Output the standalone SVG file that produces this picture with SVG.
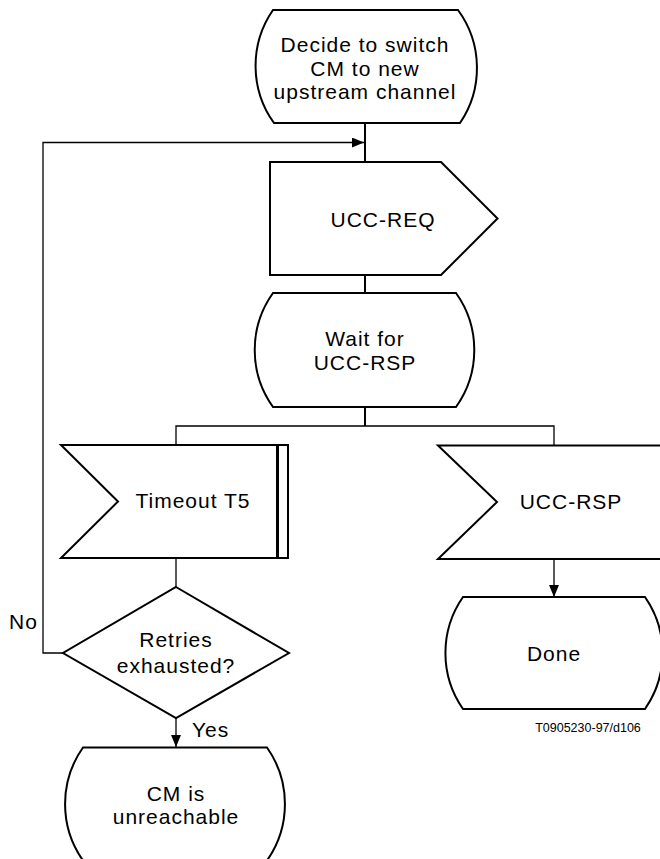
<svg xmlns="http://www.w3.org/2000/svg" width="660" height="859" viewBox="0 0 660 859">
<style>
.n{fill:#fff;stroke:#000;stroke-width:2;stroke-linejoin:miter}
.t{font-family:"Liberation Sans",Arial,sans-serif;font-size:21px;letter-spacing:1px;text-anchor:middle;fill:#000}
.c{fill:none;stroke:#000;stroke-width:1.3}
.cb{fill:none;stroke:#000;stroke-width:2}
.l{font-family:"Liberation Sans",Arial,sans-serif;font-size:21px;letter-spacing:1px;fill:#000}
</style>
<defs>
<marker id="ah" viewBox="0 0 12 10" refX="12" refY="5" markerWidth="12" markerHeight="10" markerUnits="userSpaceOnUse" orient="auto">
<path d="M0,0 L12,5 L0,10 Z" fill="#000"/>
</marker>
</defs>
<g id="connectors">
<path class="cb" d="M365,123 V162"/>
<path class="c" d="M63,653 H43 V142.5 H364" marker-end="url(#ah)"/>
<path class="cb" d="M365,275 V293"/>
<path class="cb" d="M365,407 V426"/>
<path class="c" d="M176,445 V426 H554 V445"/>
<path class="c" d="M176,558 V587"/>
<path class="c" d="M176,718 V747" marker-end="url(#ah)"/>
<path class="c" d="M554,559 V597" marker-end="url(#ah)"/>
<text class="l" x="9" y="629">No</text>
<text class="l" x="192" y="737">Yes</text>
</g>
<g id="decide">
<path class="n" d="M273,10 H458 A98,98 0 0 1 460,123 H274 A98,98 0 0 1 273,10 Z"/>
<text class="t" x="365" y="52">Decide to switch</text>
<text class="t" x="365" y="75.5">CM to new</text>
<text class="t" x="365" y="99">upstream channel</text>
</g>
<g id="ucc-req">
<path class="n" d="M270,162 H441 L497.5,218.5 L441,275 H270 Z"/>
<text class="t" x="383" y="227">UCC-REQ</text>
</g>
<g id="wait">
<path class="n" d="M273,293 H456 A98,98 0 0 1 456,407 H273 A98,98 0 0 1 273,293 Z"/>
<text class="t" x="365" y="346">Wait for</text>
<text class="t" x="365" y="370">UCC-RSP</text>
</g>
<g id="timeout">
<path class="n" d="M61,445 H288 V558 H61 L118,501.5 Z"/>
<path d="M277.5,445 V558" stroke="#000" stroke-width="3"/>
<text class="t" x="193" y="508">Timeout T5</text>
</g>
<g id="ucc-rsp">
<path class="n" d="M438,445.5 H672 V559 H438 L497,502 Z"/>
<text class="t" x="571" y="508.5">UCC-RSP</text>
</g>
<g id="retries">
<path class="n" d="M176,587 L289,653 L176,718 L63,653 Z"/>
<text class="t" x="176" y="647">Retries</text>
<text class="t" x="176" y="673">exhausted?</text>
</g>
<g id="done">
<path class="n" d="M463,597 H645 A98,98 0 0 1 645,709 H463 A98,98 0 0 1 463,597 Z"/>
<text class="t" x="554" y="661">Done</text>
</g>
<g id="unreachable">
<path class="n" d="M83,747.5 H267 A98,98 0 0 1 267,860.5 H83 A98,98 0 0 1 83,747.5 Z"/>
<text class="t" x="176" y="801">CM is</text>
<text class="t" x="176" y="823.5">unreachable</text>
</g>
<text x="588" y="732" font-family="'Liberation Sans',Arial,sans-serif" font-size="12.5" text-anchor="middle" fill="#000">T0905230-97/d106</text>
</svg>
